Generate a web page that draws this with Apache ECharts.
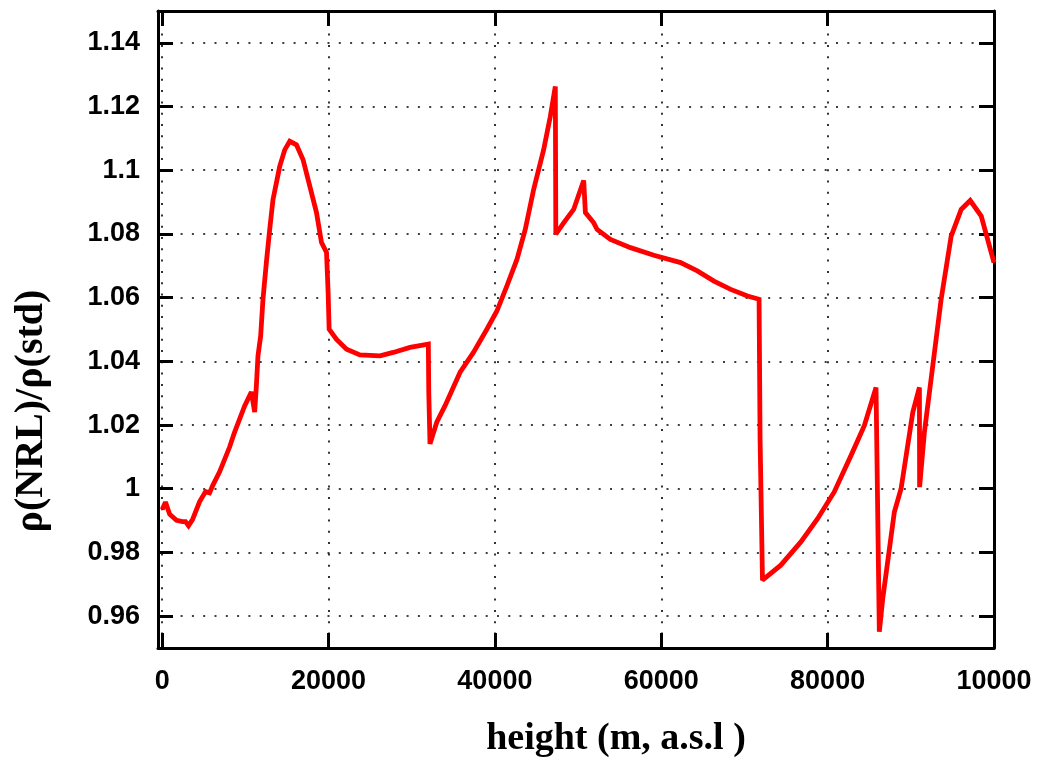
<!DOCTYPE html>
<html>
<head>
<meta charset="utf-8">
<script src="https://cdn.jsdelivr.net/npm/echarts@6/dist/echarts.min.js"></script>
<style>
html,body{margin:0;padding:0;background:#fff;}
#c{width:1040px;height:761px;}
</style>
</head>
<body>
<div id="c"></div>
<script>
// height (m, a.s.l.)
const heights = [
  0, 400, 900, 1723, 2446, 2807, 3169, 3650, 4494, 5217, 5699, 6060, 6904,
  8108, 8711, 9916, 10723, 10940, 11120, 11325, 11518, 11843, 12120, 12530,
  12927, 13325, 13735, 14133, 14735, 15337, 16144, 16939, 17747, 18554,
  19156, 19759, 19952, 20072, 20964, 22168, 23771, 26180, 27783, 29795,
  31999, 32050, 32200, 33011, 34011, 35818, 37421, 39035, 40240, 41445,
  42650, 43650, 44650, 45855, 46662, 47264, 47324, 48264, 49469, 50674,
  50879, 51879, 52288, 53891, 56301, 59108, 62320, 64336, 66336, 68348,
  70360, 71758, 71879, 72168, 74372, 76781, 78793, 80793, 82805, 84408,
  85817, 86214, 86624, 88021, 88828, 90238, 91033, 91057, 91636, 92840,
  93647, 94852, 96057, 97141, 98466, 100000
];
// rho(NRL)/rho(std)
const ratios = [
  0.9935, 0.9958, 0.9920, 0.9901, 0.9897, 0.9897, 0.9884, 0.9903, 0.9959,
  0.9991, 0.9987, 1.0009, 1.0053, 1.0131, 1.0178, 1.0260, 1.0304, 1.0307,
  1.0241, 1.0323, 1.0417, 1.0480, 1.0595, 1.0711, 1.0814, 1.0908, 1.0961,
  1.1012, 1.1064, 1.1091, 1.1080, 1.1033, 1.0950, 1.0867, 1.0773, 1.0742,
  1.0617, 1.0501, 1.0469, 1.0438, 1.0420, 1.0417, 1.0428, 1.0444, 1.0454,
  1.0304, 1.0141, 1.0209, 1.0261, 1.0366, 1.0428, 1.0501, 1.0558, 1.0637,
  1.0720, 1.0814, 1.0939, 1.1064, 1.1169, 1.1263, 1.0799, 1.0835, 1.0877,
  1.0968, 1.0867, 1.0835, 1.0814, 1.0783, 1.0757, 1.0733, 1.0710, 1.0684,
  1.0652, 1.0626, 1.0605, 1.0595, 1.0157, 0.9713, 0.9760, 0.9833, 0.9906,
  0.9990, 1.0104, 1.0198, 1.0318, 0.9551, 0.9655, 0.9927, 1.0000, 1.0240,
  1.0318, 1.0005, 1.0178, 1.0428, 1.0595, 1.0793, 1.0877, 1.0905, 1.0856,
  1.0710
];
const xTicks = [0, 20000, 40000, 60000, 80000, 100000];
const xTickLabels = ['0', '20000', '40000', '60000', '80000', '10000'];
const yTicks = [0.96, 0.98, 1.0, 1.02, 1.04, 1.06, 1.08, 1.1, 1.12, 1.14];
const yTickLabels = ['0.96', '0.98', '1', '1.02', '1.04', '1.06', '1.08', '1.1', '1.12', '1.14'];
const xTitle = 'height (m, a.s.l )';
const yTitle = 'ρ(NRL)/ρ(std)';

const chart = echarts.init(document.getElementById('c'), null, {renderer: 'canvas'});
const labelFont = {fontFamily: 'Liberation Sans', fontWeight: 'bold', fontSize: 27, color: '#000'};
const gridDots = {show: true, lineStyle: {color: '#000', width: 1.6, type: [2, 9.3]}};
const axisLine = {show: true, onZero: false, lineStyle: {color: '#000', width: 3}};
const tick = (vals) => ({show: true, inside: true, length: 15, customValues: vals, lineStyle: {color: '#000', width: 3}});

const xMap = {};
xTicks.forEach((v, i) => xMap[v] = xTickLabels[i]);
const yMap = {};
yTicks.forEach((v, i) => yMap[v.toFixed(2)] = yTickLabels[i]);

chart.setOption({
  animation: false,
  backgroundColor: '#fff',
  grid: {left: 158, right: 46, top: 11, bottom: 113, containLabel: false},
  graphic: [{
    type: 'text', x: 616, y: 739, z: 10,
    style: {text: xTitle, fontFamily: 'Liberation Serif', fontWeight: 'bold', fontSize: 38, fill: '#000',
            align: 'center', verticalAlign: 'middle', textAlign: 'center', textVerticalAlign: 'middle'}
  }, {
    type: 'text', x: 32, y: 411, rotation: Math.PI / 2, z: 10,
    style: {text: yTitle, fontFamily: 'Liberation Serif', fontWeight: 'bold', fontSize: 40, fill: '#000',
            align: 'center', verticalAlign: 'middle', textAlign: 'center', textVerticalAlign: 'middle'}
  }],
  xAxis: [{
    type: 'value', min: -500, max: 100000, position: 'bottom',
    axisLine: axisLine, axisTick: tick(xTicks),
    axisLabel: Object.assign({customValues: xTicks, margin: 20, formatter: v => xMap[v] !== undefined ? xMap[v] : ''}, labelFont),
    splitLine: gridDots
  }, {
    type: 'value', min: -500, max: 100000, position: 'top',
    axisLine: axisLine, axisTick: tick(xTicks),
    axisLabel: {show: false}, splitLine: {show: false}
  }],
  yAxis: [{
    type: 'value', min: 0.95, max: 1.15, position: 'left',
    axisLine: axisLine, axisTick: tick(yTicks),
    axisLabel: Object.assign({customValues: yTicks, margin: 18, formatter: v => {const k = v.toFixed(2); return yMap[k] !== undefined ? yMap[k] : '';}}, labelFont),
    splitLine: gridDots
  }, {
    type: 'value', min: 0.95, max: 1.15, position: 'right',
    axisLine: axisLine, axisTick: tick(yTicks),
    axisLabel: {show: false}, splitLine: {show: false}
  }],
  series: [{
    type: 'line',
    xAxisIndex: 0, yAxisIndex: 0,
    data: heights.map((h, i) => [h, ratios[i]]),
    showSymbol: false,
    clip: true,
    lineStyle: {color: '#ff0000', width: 4.8, join: 'miter', miterLimit: 2},
    z: 5
  }]
});
</script>
</body>
</html>
